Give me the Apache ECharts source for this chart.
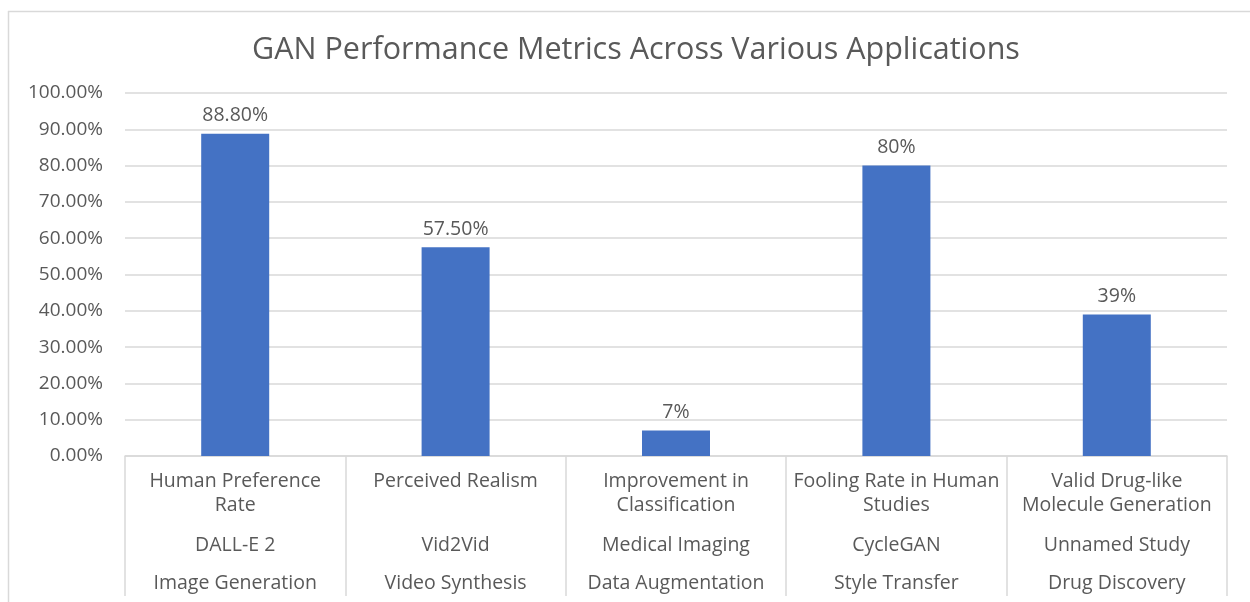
<!DOCTYPE html>
<html>
<head>
<meta charset="utf-8">
<script src="https://cdn.jsdelivr.net/npm/echarts@6/dist/echarts.min.js"></script>
<style>
html,body{margin:0;padding:0;background:#fff;}
#chart{width:1250px;height:602px;}
</style>
</head>
<body>
<div id="chart"></div>
<script>
const titleText = 'GAN Performance Metrics Across Various Applications';
const metrics = ['Human Preference\nRate', 'Perceived Realism', 'Improvement in\nClassification', 'Fooling Rate in Human\nStudies', 'Valid Drug-like\nMolecule Generation'];
const models = ['DALL-E 2', 'Vid2Vid', 'Medical Imaging', 'CycleGAN', 'Unnamed Study'];
const applications = ['Image Generation', 'Video Synthesis', 'Data Augmentation', 'Style Transfer', 'Drug Discovery'];
const values = [88.8, 57.5, 7, 80, 39];
const valueLabels = ['88.80%', '57.50%', '7%', '80%', '39%'];

const FONT = 'Open Sans';
const TXT = '#595959';
const GRID = '#d9d9d9';

const chart = echarts.init(document.getElementById('chart'), null, {renderer: 'canvas'});
chart.setOption({
  animation: false,
  backgroundColor: '#fff',
  title: {
    text: titleText,
    left: 631, textAlign: 'center', top: 30,
    textStyle: {fontFamily: FONT, fontSize: 30.5, fontWeight: 'normal', color: TXT}
  },
  graphic: [
    {type: 'line', shape: {x1: 8, y1: 11.5, x2: 1250, y2: 11.5}, style: {stroke: GRID, lineWidth: 1.5}},
    {type: 'line', shape: {x1: 8.5, y1: 11, x2: 8.5, y2: 602}, style: {stroke: GRID, lineWidth: 1.5}}
  ],
  grid: {left: 125, right: 23, top: 93, bottom: 146, containLabel: false},
  xAxis: [
    {
      type: 'category', data: metrics, position: 'bottom',
      axisLine: {show: true, lineStyle: {color: GRID, width: 1.5}},
      axisTick: {show: true, length: 140, interval: 0, lineStyle: {color: GRID, width: 1.5}},
      axisLabel: {interval: 0, margin: 13, fontFamily: FONT, fontSize: 19.5, color: TXT, lineHeight: 24, align: 'center', verticalAlign: 'top'}
    },
    {
      type: 'category', data: models, position: 'bottom', gridIndex: 0,
      axisLine: {show: false}, axisTick: {show: false},
      axisLabel: {interval: 0, margin: 77, fontFamily: FONT, fontSize: 19.5, color: TXT, lineHeight: 24, verticalAlign: 'top'}
    },
    {
      type: 'category', data: applications, position: 'bottom', gridIndex: 0,
      axisLine: {show: false}, axisTick: {show: false},
      axisLabel: {interval: 0, margin: 115, fontFamily: FONT, fontSize: 19.5, color: TXT, lineHeight: 24, verticalAlign: 'top'}
    }
  ],
  yAxis: {
    type: 'value', min: 0, max: 100, interval: 10,
    axisLine: {show: false}, axisTick: {show: false},
    splitLine: {lineStyle: {color: GRID, width: 1.5}},
    axisLabel: {margin: 22, fontFamily: FONT, fontSize: 19, color: TXT, formatter: v => v.toFixed(2) + '%'}
  },
  series: [{
    type: 'bar', xAxisIndex: 0, data: values, barWidth: 68,
    itemStyle: {color: '#4472C4'},
    label: {
      show: true, position: 'top', distance: 8,
      fontFamily: FONT, fontSize: 19.5, color: TXT,
      formatter: p => valueLabels[p.dataIndex]
    }
  }]
});
</script>
</body>
</html>
